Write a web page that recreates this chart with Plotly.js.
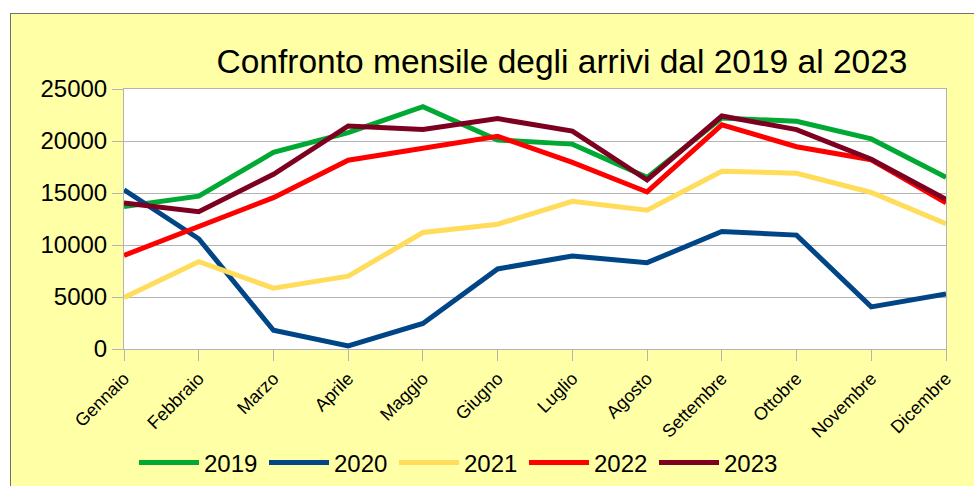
<!DOCTYPE html>
<html>
<head>
<meta charset="utf-8">
<script src="https://cdn.plot.ly/plotly-3.0.1.min.js"></script>
<style>
html, body { margin:0; padding:0; background:#ffffff; overflow:hidden; width:974px; height:486px; }
#frame { position:absolute; left:10px; top:13px; width:1000px; height:500px; border-left:1px solid #707070; border-top:1px solid #707070; background:#ffffa6; }
#chart { width:1000px; height:500px; }
</style>
</head>
<body>
<div id="frame"><div id="chart"></div></div>
<script>
const months = ["Gennaio","Febbraio","Marzo","Aprile","Maggio","Giugno","Luglio","Agosto","Settembre","Ottobre","Novembre","Dicembre"];
const y2019 = [13700, 14700, 18900, 20800, 23300, 20100, 19700, 16500, 22200, 21900, 20200, 16500];
const y2020 = [15300, 10600, 1800, 300, 2450, 7700, 8950, 8300, 11300, 10950, 4050, 5300];
const y2021 = [4950, 8400, 5850, 7000, 11200, 12000, 14200, 13350, 17100, 16900, 15050, 12050];
const y2022 = [9000, 11750, 14550, 18150, 19350, 20450, 17950, 15100, 21550, 19450, 18200, 14050];
const y2023 = [14050, 13200, 16800, 21450, 21100, 22150, 20950, 16250, 22400, 21100, 18250, 14400];
const seriesNames = ["2019","2020","2021","2022","2023"];
const seriesData = [y2019, y2020, y2021, y2022, y2023];
const seriesColors = ["#00a933", "#004586", "#ffdc5a", "#ff0000", "#7e0021"];
const yTicks = [0, 5000, 10000, 15000, 20000, 25000];

const traces = seriesData.map((d, i) => ({
  type: "scatter", mode: "lines", x: months, y: d, name: seriesNames[i],
  line: { color: seriesColors[i], width: 5 }
}));

const layout = {
  width: 1000, height: 500,
  margin: { l: 113, r: 65, t: 75, b: 165 },
  paper_bgcolor: "#ffffa6",
  plot_bgcolor: "#ffffff",
  font: { family: "Liberation Sans, Arial, sans-serif", color: "#000000" },
  title: { text: "Confronto mensile degli arrivi dal 2019 al 2023", font: { size: 33.5, color: "#000000" },
           x: 551/1000, xanchor: "center", xref: "container", y: 1 - 47/500, yanchor: "middle", yref: "container" },
  xaxis: {
    type: "category", range: [0, 11], showgrid: false,
    showline: true, mirror: true, linecolor: "#b3b3b3", linewidth: 1,
    ticks: "outside", ticklen: 11, tickcolor: "#b3b3b3", tickwidth: 1,
    tickangle: -45, tickfont: { size: 18, color: "#000000" }
  },
  yaxis: {
    range: [0, 25000], tickvals: yTicks, ticktext: yTicks.map(String),
    showgrid: true, gridcolor: "#b3b3b3", gridwidth: 1, zeroline: false,
    showline: true, mirror: true, linecolor: "#b3b3b3", linewidth: 1,
    ticks: "outside", ticklen: 11, tickcolor: "#b3b3b3", tickwidth: 1,
    tickfont: { size: 24, color: "#000000" }
  },
  showlegend: true,
  legend: {
    orientation: "h", xref: "paper", yref: "paper",
    x: (448 - 113) / 822, xanchor: "center", y: (335 - 449) / 260, yanchor: "middle",
    font: { size: 24, color: "#000000" }, bgcolor: "rgba(0,0,0,0)", itemwidth: 60, tracegroupgap: 0,
    entrywidth: 55, entrywidthmode: "pixels"
  }
};

Plotly.newPlot("chart", traces, layout, { displayModeBar: false, staticPlot: true });
</script>
</body>
</html>
